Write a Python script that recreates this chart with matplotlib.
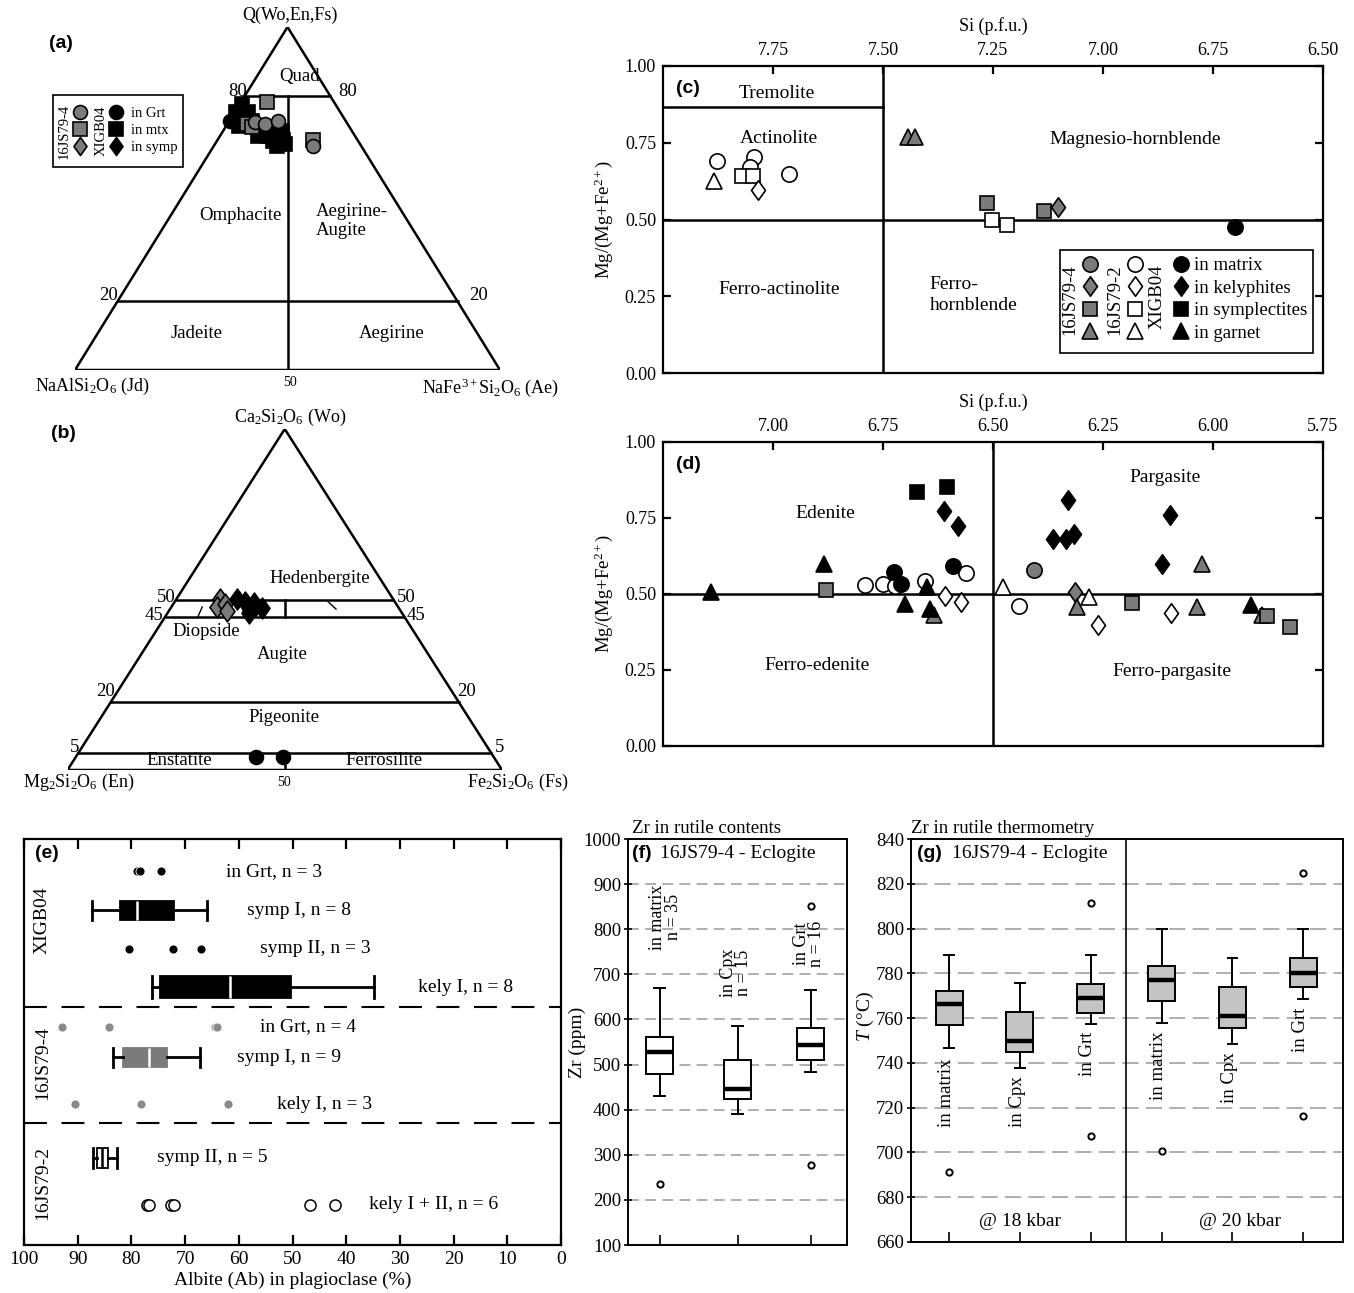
import numpy as np
import matplotlib
matplotlib.use('Agg')
import matplotlib.pyplot as plt
from matplotlib.lines import Line2D
from matplotlib.patches import Rectangle
from matplotlib.path import Path

plt.rcParams['font.family'] = ['Liberation Serif', 'DejaVu Serif']
plt.rcParams['mathtext.fontset'] = 'custom'
plt.rcParams['mathtext.rm'] = 'Liberation Serif'
plt.rcParams['mathtext.it'] = 'Liberation Serif:italic'
plt.rcParams['axes.linewidth'] = 1.6

W, H = 1354, 1293

# ---- (a) Q-Jd-Ae ternary (Q %, Ae %) ----
a_xigb_mtx_q = [77.5, 75.1, 74.0, 72.5, 71.0, 69.3, 68.1, 66.7, 65.2, 69.6, 67.2, 68.1, 75.1, 73.5, 70.0, 66.0, 71.0]
a_xigb_mtx_ae = [0.5, 0.3, 3.0, 5.4, 6.9, 9.3, 11.3, 13.3, 14.9, 13.9, 15.3, 9.0, 3.2, 1.5, 12.0, 16.5, 3.0]
a_xigb_grt_q = [72.5]
a_xigb_grt_ae = [0.2]
a_js4_grt_q = [72.2, 71.6, 72.5, 65.2]
a_js4_grt_ae = [6.3, 8.9, 11.5, 23.4]
a_js4_mtx_q = [71.6, 70.8, 78.1, 67.2]
a_js4_mtx_ae = [4.7, 6.2, 6.1, 22.4]

# ---- (b) Wo-En-Fs ternary (Wo %, Fs %) ----
b_js4_symp_wo = [50.1, 47.7, 48.7, 46.5]
b_js4_symp_fs = [10.0, 10.5, 12.0, 13.4]
b_xigb_symp_wo = [50.1, 49.4, 47.0, 48.1, 47.5, 46.0, 48.9]
b_xigb_symp_fs = [14.0, 16.1, 18.5, 19.0, 21.0, 18.7, 18.5]
b_xigb_grt_wo = [3.7, 3.7]
b_xigb_grt_fs = [41.5, 47.8]

# ---- (c) amphibole, Si vs Mg# ----
c_js2_mtx_si = [7.877, 7.793, 7.802, 7.714]
c_js2_mtx_mg = [0.692, 0.705, 0.672, 0.649]
c_js2_grt_si = [7.883]
c_js2_grt_mg = [0.624]
c_js2_symp_si = [7.82, 7.796, 7.253, 7.218]
c_js2_symp_mg = [0.643, 0.643, 0.499, 0.483]
c_js2_kely_si = [7.783]
c_js2_kely_mg = [0.597]
c_js4_grt_si = [7.444, 7.427]
c_js4_grt_mg = [0.768, 0.768]
c_js4_symp_si = [7.264, 7.135]
c_js4_symp_mg = [0.555, 0.529]
c_js4_kely_si = [7.102]
c_js4_kely_mg = [0.542]
c_xigb_mtx_si = [6.70]
c_xigb_mtx_mg = [0.474]

# ---- (d) amphibole, Si vs Mg# ----
d_xigb_grt_si = [7.142, 6.885, 6.700, 6.651, 6.644, 5.913]
d_xigb_grt_mg = [0.507, 0.600, 0.467, 0.522, 0.450, 0.463]
d_xigb_symp_si = [6.672, 6.604]
d_xigb_symp_mg = [0.836, 0.852]
d_xigb_kely_si = [6.611, 6.580, 6.330, 6.363, 6.335, 6.316, 6.098, 6.115]
d_xigb_kely_mg = [0.772, 0.723, 0.808, 0.682, 0.682, 0.699, 0.759, 0.600]
d_xigb_mtx_si = [6.724, 6.710, 6.592]
d_xigb_mtx_mg = [0.571, 0.532, 0.592]
d_js2_mtx_si = [6.790, 6.750, 6.723, 6.654, 6.561, 6.440]
d_js2_mtx_mg = [0.530, 0.532, 0.525, 0.544, 0.570, 0.460]
d_js2_kely_si = [6.610, 6.572, 6.261, 6.096]
d_js2_kely_mg = [0.492, 0.475, 0.398, 0.438]
d_js2_grt_si = [6.477, 6.282]
d_js2_grt_mg = [0.524, 0.491]
d_js4_mtx_si = [6.407]
d_js4_mtx_mg = [0.580]
d_js4_kely_si = [6.313]
d_js4_kely_mg = [0.507]
d_js4_grt_si = [6.633, 6.308, 6.026, 6.037, 5.888]
d_js4_grt_mg = [0.432, 0.458, 0.600, 0.458, 0.430]
d_js4_symp_si = [6.880, 6.184, 5.877, 5.825]
d_js4_symp_mg = [0.513, 0.469, 0.427, 0.390]

# ---- (e) albite content in plagioclase ----
e_rows = [8.0, 17.5, 27.0, 36.5, 46.2, 53.8, 65.3, 78.5, 90.1]
e_row_labels = ['in Grt, n = 3', 'symp I, n = 8', 'symp II, n = 3', 'kely I, n = 8',
                'in Grt, n = 4', 'symp I, n = 9', 'kely I, n = 3', 'symp II, n = 5',
                'kely I + II, n = 6']
e_label_x = [62.3, 58.5, 56.1, 26.7, 56.1, 60.4, 52.8, 75.2, 35.7]
e_xigb_grt = [79.0, 78.4, 74.4]
e_xigb_symp2 = [80.5, 72.3, 67.1]
e_js4_grt = [93.0, 84.1, 64.4, 64.1]
e_js4_kely = [90.5, 78.2, 62.0]
e_js2_kely = [77.1, 76.7, 72.6, 72.1, 46.8, 42.1]
# whislo, q1, med, q3, whishi
e_xigb_symp1_box = [66.0, 72.0, 79.0, 82.1, 87.3]
e_xigb_kely1_box = [34.8, 50.3, 61.6, 74.7, 76.2]
e_js4_symp1_box = [67.3, 73.3, 76.7, 81.5, 83.5]
e_js2_symp2_box = [82.6, 84.4, 85.4, 86.4, 87.2]
e_samples = ['XIGB04', '16JS79-4', '16JS79-2']
e_sample_y = [20.0, 55.2, 84.7]

# ---- (f) Zr in rutile (ppm) ----
f_labels = ['in matrix\nn = 35', 'in Cpx\nn = 15', 'in Grt\nn = 16']
f_box = [[430, 479, 528, 560, 669], [390, 423, 446, 511, 586], [483, 511, 543, 580, 665]]
f_fliers = [[235], [], [852, 277]]

# ---- (g) Zr-in-rutile temperatures ----
g_labels = ['in matrix', 'in Cpx', 'in Grt', 'in matrix', 'in Cpx', 'in Grt']
g_box = [[746.6, 756.7, 766.4, 772.3, 788.2], [737.6, 744.8, 749.8, 762.9, 775.9],
         [757.4, 762.5, 769.2, 775.1, 788.2], [757.7, 767.8, 777.1, 783.3, 800.0],
         [748.4, 755.5, 761.0, 774.1, 787.0], [768.6, 773.8, 780.0, 787.0, 800.0]]
g_fliers = [[691.1], [], [811.3, 707.5], [700.5], [], [825.0, 716.1]]
g_label_y = [726.5, 722.8, 743.9, 738.8, 733.2, 754.8]
g_pressures = ['@ 18 kbar', '@ 20 kbar']

GRAY = '#7b7b7b'
DIAM = Path([(0, 1), (0.72, 0), (0, -1), (-0.72, 0), (0, 1)],
            [Path.MOVETO, Path.LINETO, Path.LINETO, Path.LINETO, Path.CLOSEPOLY])
MS = {'o': 11, 's': 10, '^': 12, DIAM: 14}

fig = plt.figure(figsize=(W / 100, H / 100), dpi=100)


def px_axes(x0, y0, x1, y1):
    return fig.add_axes([x0 / W, 1 - y1 / H, (x1 - x0) / W, (y1 - y0) / H])


def ftext(px, py, s, size=13.5, **kw):
    kw.setdefault('ha', 'center')
    kw.setdefault('va', 'center')
    fig.text(px / W, 1 - py / H, s, size=size, **kw)


def letter(px, py, s):
    ftext(px, py, s, size=14, family='Liberation Sans', weight='bold')


def pts(ax, x, y, marker, face, ms=None):
    ax.plot(x, y, ls='none', marker=marker, mfc=face, mec='black',
            ms=ms or MS[marker], mew=1.2, zorder=3, clip_on=False)


def handle(marker, face, ms=None):
    return Line2D([], [], ls='none', marker=marker, mfc=face, mec='black',
                  ms=ms or MS[marker], mew=1.2)


def frame(x0, y0, x1, y1):
    fig.add_artist(Rectangle((x0 / W, 1 - y1 / H), (x1 - x0) / W, (y1 - y0) / H,
                             transform=fig.transFigure, fill=False, lw=1.2, ec='black'))


def bxp(ax, stats, **kw):
    o = kw.pop('orient')
    try:
        return ax.bxp(stats, orientation=o, **kw)
    except TypeError:
        return ax.bxp(stats, vert=(o == 'vertical'), **kw)


def stats_of(vals, fl=()):
    return dict(whislo=vals[0], q1=vals[1], med=vals[2], q3=vals[3], whishi=vals[4], fliers=list(fl))


# ================= (a) =================
axa = px_axes(75, 27, 500, 370)
axa.set_xlim(0, 1)
axa.set_ylim(0, 1)
axa.axis('off')


def tern_a(q, ae):
    q = np.asarray(q, float) / 100
    ae = np.asarray(ae, float) / 100
    return ae + q / 2, q


lw_t = 1.8
axa.plot([0, 1, 0.5, 0], [0, 0, 1, 0], color='black', lw=lw_t, zorder=1)
for q in (80, 20):
    x, y = tern_a([q, q], [0, 100 - q])
    axa.plot(x, y, color='black', lw=lw_t)
x, y = tern_a([0, 80], [50, 10])
axa.plot(x, y, color='black', lw=lw_t)

x, y = tern_a(a_xigb_mtx_q, a_xigb_mtx_ae)
pts(axa, x, y, 's', 'black', 9.5)
x, y = tern_a(a_xigb_grt_q, a_xigb_grt_ae)
pts(axa, x, y, 'o', 'black', 10)
x, y = tern_a(a_js4_mtx_q, a_js4_mtx_ae)
pts(axa, x, y, 's', GRAY, 9.5)
x, y = tern_a(a_js4_grt_q, a_js4_grt_ae)
pts(axa, x, y, 'o', GRAY, 10)

ftext(290, 15, 'Q(Wo,En,Fs)', size=13)
letter(61, 44, '(a)')
ftext(300, 76, 'Quad')
ftext(238, 91, '80')
ftext(348, 91, '80')
ftext(240, 215, 'Omphacite')
ftext(316, 221, 'Aegirine-\nAugite', ha='left', linespacing=1.1)
ftext(109, 295, '20')
ftext(479, 295, '20')
ftext(197, 333, 'Jadeite')
ftext(392, 333, 'Aegirine')
ftext(92, 386, 'NaAlSi$_2$O$_6$ (Jd)', size=13)
ftext(290, 382, '50', size=10)
ftext(491, 388, 'NaFe$^{3+}$Si$_2$O$_6$ (Ae)', size=13)

frame(53, 95, 183, 167)
ha_ = [handle('o', GRAY, 10), handle('s', GRAY, 9.5), handle(DIAM, GRAY, 13),
       handle('o', 'black', 10), handle('s', 'black', 9.5), handle(DIAM, 'black', 13)]
fig.legend(ha_, ['', '', '', 'in Grt', 'in mtx', 'in symp'], ncol=2, frameon=False,
           loc='upper left', bbox_to_anchor=(73 / W, 1 - 107 / H), bbox_transform=fig.transFigure,
           borderpad=0, borderaxespad=0, handlelength=0.9, handletextpad=0.6,
           columnspacing=1.0, labelspacing=0.26, fontsize=10.5)
ftext(64, 131, '16JS79-4', size=10.5, rotation=90)
ftext(101, 131, 'XIGB04', size=10.5, rotation=90)

# ================= (b) =================
axb = px_axes(67.5, 429, 502, 770)
axb.set_xlim(0, 1)
axb.set_ylim(0, 1)
axb.axis('off')


def tern_b(wo, fs):
    wo = np.asarray(wo, float) / 100
    fs = np.asarray(fs, float) / 100
    return fs + wo / 2, wo


axb.plot([0, 1, 0.5, 0], [0, 0, 1, 0], color='black', lw=lw_t, zorder=1)
for wo in (50, 45, 20, 5):
    x, y = tern_b([wo, wo], [0, 100 - wo])
    axb.plot(x, y, color='black', lw=lw_t)
for lo, hi in ((45, 50), (0, 5)):
    x, y = tern_b([lo, hi], [50 - lo / 2, 50 - hi / 2])
    axb.plot(x, y, color='black', lw=lw_t)
axb.plot([0.31, 0.299], [0.478, 0.446], color='black', lw=1)
axb.plot([0.60, 0.618], [0.493, 0.472], color='black', lw=1)

x, y = tern_b(b_js4_symp_wo, b_js4_symp_fs)
pts(axb, x, y, DIAM, GRAY, 15)
x, y = tern_b(b_xigb_symp_wo, b_xigb_symp_fs)
pts(axb, x, y, DIAM, 'black', 15)
x, y = tern_b(b_xigb_grt_wo, b_xigb_grt_fs)
pts(axb, x, y, 'o', 'black', 10)

ftext(290, 417, 'Ca$_2$Si$_2$O$_6$ (Wo)', size=13)
letter(63, 434, '(b)')
ftext(320, 579, 'Hedenbergite')
ftext(166, 597, '50')
ftext(406, 597, '50')
ftext(154, 615, '45')
ftext(416, 615, '45')
ftext(206, 631, 'Diopside')
ftext(282, 655, 'Augite')
ftext(106, 691, '20')
ftext(466, 691, '20')
ftext(284, 718, 'Pigeonite')
ftext(75, 747, '5')
ftext(500, 747, '5')
ftext(179, 760, 'Enstatite')
ftext(384, 760, 'Ferrosilite')
ftext(79, 782, 'Mg$_2$Si$_2$O$_6$ (En)', size=13)
ftext(284, 783, '50', size=10)
ftext(518, 782, 'Fe$_2$Si$_2$O$_6$ (Fs)', size=13)


# ================= (c), (d) =================
def amph_axes(ax, xlim, xticks):
    ax.set_xlim(*xlim)
    ax.set_ylim(0, 1)
    ax.xaxis.tick_top()
    ax.xaxis.set_label_position('top')
    ax.set_xticks(xticks)
    ax.set_xticklabels([f'{t:.2f}' for t in xticks])
    ax.set_yticks([0, 0.25, 0.5, 0.75, 1.0])
    ax.set_yticklabels(['0.00', '0.25', '0.50', '0.75', '1.00'])
    ax.tick_params(direction='in', length=6, width=1.6, labelsize=13, top=True,
                   bottom=False, left=True, right=True, pad=5)
    ax.set_xlabel('Si (p.f.u.)', fontsize=13, labelpad=8)
    ax.set_ylabel('Mg/(Mg+Fe$^{2+}$)', fontsize=13.5)
    ax.yaxis.set_label_coords(-0.072, 0.5)
    ax.axhline(0.5, color='black', lw=1.8)


axc = px_axes(663, 66, 1323, 373)
amph_axes(axc, (8.0, 6.5), [7.75, 7.5, 7.25, 7.0, 6.75, 6.5])
axc.axvline(7.5, color='black', lw=1.8)
axc.plot([8.0, 7.5], [0.865, 0.865], color='black', lw=1.8)
pts(axc, c_js2_mtx_si, c_js2_mtx_mg, 'o', 'white')
pts(axc, c_js2_grt_si, c_js2_grt_mg, '^', 'white')
pts(axc, c_js2_symp_si, c_js2_symp_mg, 's', 'white')
pts(axc, c_js2_kely_si, c_js2_kely_mg, DIAM, 'white')
pts(axc, c_js4_grt_si, c_js4_grt_mg, '^', GRAY)
pts(axc, c_js4_symp_si, c_js4_symp_mg, 's', GRAY)
pts(axc, c_js4_kely_si, c_js4_kely_mg, DIAM, GRAY)
pts(axc, c_xigb_mtx_si, c_xigb_mtx_mg, 'o', 'black')
axc.text(0.02, 0.955, '(c)', transform=axc.transAxes, family='Liberation Sans',
         weight='bold', size=14, va='top')
axc.text(7.741, 0.909, 'Tremolite', ha='center', va='center', size=14)
axc.text(7.736, 0.765, 'Actinolite', ha='center', va='center', size=14)
axc.text(6.926, 0.761, 'Magnesio-hornblende', ha='center', va='center', size=14)
axc.text(7.736, 0.271, 'Ferro-actinolite', ha='center', va='center', size=14)
axc.text(7.394, 0.255, 'Ferro-\nhornblende', ha='left', va='center', size=14, linespacing=1.3)

frame(1060, 250, 1313, 353)
hc = []
for face in (GRAY, 'white', 'black'):
    hc += [handle('o', face), handle(DIAM, face), handle('s', face), handle('^', face)]
fig.legend(hc, [''] * 8 + ['in matrix', 'in kelyphites', 'in symplectites', 'in garnet'],
           ncol=3, frameon=False, loc='upper left',
           bbox_to_anchor=(1082 / W, 1 - 257 / H), bbox_transform=fig.transFigure,
           borderpad=0, borderaxespad=0, handlelength=0.8, handletextpad=0.25,
           columnspacing=1.4, labelspacing=0.29, fontsize=13.5)
ftext(1070, 300, '16JS79-4', size=13.5, rotation=90)
ftext(1115, 300, '16JS79-2', size=13.5, rotation=90)
ftext(1157, 297, 'XIGB04', size=13.5, rotation=90)

axd = px_axes(663, 442, 1323, 746)
amph_axes(axd, (7.25, 5.75), [7.0, 6.75, 6.5, 6.25, 6.0, 5.75])
axd.axvline(6.5, color='black', lw=1.8)
pts(axd, d_js2_mtx_si, d_js2_mtx_mg, 'o', 'white')
pts(axd, d_js2_kely_si, d_js2_kely_mg, DIAM, 'white')
pts(axd, d_js2_grt_si, d_js2_grt_mg, '^', 'white')
pts(axd, d_js4_mtx_si, d_js4_mtx_mg, 'o', GRAY)
pts(axd, d_js4_kely_si, d_js4_kely_mg, DIAM, GRAY)
pts(axd, d_js4_grt_si, d_js4_grt_mg, '^', GRAY)
pts(axd, d_js4_symp_si, d_js4_symp_mg, 's', GRAY)
pts(axd, d_xigb_grt_si, d_xigb_grt_mg, '^', 'black')
pts(axd, d_xigb_symp_si, d_xigb_symp_mg, 's', 'black')
pts(axd, d_xigb_kely_si, d_xigb_kely_mg, DIAM, 'black')
pts(axd, d_xigb_mtx_si, d_xigb_mtx_mg, 'o', 'black')
axd.text(0.02, 0.955, '(d)', transform=axd.transAxes, family='Liberation Sans',
         weight='bold', size=14, va='top')
axd.text(6.882, 0.765, 'Edenite', ha='center', va='center', size=14)
axd.text(6.109, 0.883, 'Pargasite', ha='center', va='center', size=14)
axd.text(6.899, 0.266, 'Ferro-edenite', ha='center', va='center', size=14)
axd.text(6.093, 0.244, 'Ferro-pargasite', ha='center', va='center', size=14)

# ================= (e) =================
axe = px_axes(24, 839, 561, 1245)
axe.set_xlim(100, 0)
axe.set_ylim(100, 0)
axe.set_xticks(np.arange(100, -1, -10))
axe.set_yticks([])
axe.tick_params(axis='x', direction='in', length=7, width=1.6, labelsize=14, top=True, pad=4)
axe.set_xlabel('Albite (Ab) in plagioclase (%)', fontsize=14, labelpad=3)
for yd in (41.4, 69.9):
    axe.axhline(yd, color='black', lw=1.5, dashes=(11, 7))

box_w = [4.7, 5.4, 4.6, 5.0]
box_face = ['black', 'black', GRAY, 'white']
box_edge = ['black', 'black', GRAY, 'black']
box_med = ['white', 'white', 'white', 'black']
box_rows = [e_rows[1], e_rows[3], e_rows[5], e_rows[7]]
for vals, yy, wd, fc, ec, mc in zip(
        [e_xigb_symp1_box, e_xigb_kely1_box, e_js4_symp1_box, e_js2_symp2_box],
        box_rows, box_w, box_face, box_edge, box_med):
    bxp(axe, [stats_of(vals)], positions=[yy], widths=wd, orient='horizontal',
        patch_artist=True, showfliers=False, manage_ticks=False, capwidths=wd,
        boxprops=dict(facecolor=fc, edgecolor=ec, lw=1.3),
        medianprops=dict(color=mc, lw=1.8),
        whiskerprops=dict(color='black', lw=2), capprops=dict(color='black', lw=2))

for vals, yy, fc in ((e_xigb_grt, e_rows[0], 'black'), (e_xigb_symp2, e_rows[2], 'black'),
                     (e_js4_grt, e_rows[4], '#8a8a8a'), (e_js4_kely, e_rows[6], '#8a8a8a')):
    axe.plot(vals, [yy] * len(vals), ls='none', marker='o', ms=6.5, mfc=fc, mec='white', mew=0.6)
axe.plot(e_js2_kely, [e_rows[8]] * len(e_js2_kely), ls='none', marker='o', ms=8,
         mfc='white', mec='black', mew=1.1)

for lx, yy, s in zip(e_label_x, e_rows, e_row_labels):
    axe.text(lx, yy, s, ha='left', va='center', size=14)
for s, yy in zip(e_samples, e_sample_y):
    axe.text(96.6, yy, s, rotation=90, ha='center', va='center', size=14)
axe.text(0.02, 0.985, '(e)', transform=axe.transAxes, family='Liberation Sans',
         weight='bold', size=14, va='top')


# ================= (f) =================
def box_panel(ax, ylim, yticks, grid):
    ax.set_ylim(*ylim)
    ax.set_yticks(yticks)
    ax.tick_params(axis='y', direction='inout', length=6, width=1.2, labelsize=13.5, pad=2)
    ax.tick_params(axis='x', direction='in', length=7, width=1.2, labelbottom=False)
    for g in grid:
        ax.axhline(g, color='#a8a8a8', lw=1.3, dashes=(6, 3.5), zorder=0)
    for sp in ax.spines.values():
        sp.set_linewidth(1.4)


axf = px_axes(628, 839, 847, 1245)
axf.set_xlim(0.59, 3.41)
f_pos = [1, 2, 2.94]
box_panel(axf, (100, 1000), np.arange(100, 1001, 100), np.arange(200, 901, 100))
bxp(axf, [stats_of(v, fl) for v, fl in zip(f_box, f_fliers)], positions=f_pos, widths=0.35,
    orient='vertical', patch_artist=True, manage_ticks=False, capwidths=0.14,
    boxprops=dict(facecolor='white', edgecolor='black', lw=1.4),
    medianprops=dict(color='black', lw=3.2), whiskerprops=dict(color='black', lw=1.4),
    capprops=dict(color='black', lw=1.4),
    flierprops=dict(marker='o', mfc='white', mec='black', ms=4.5, mew=1.4))
axf.set_xticks(f_pos)
axf.set_ylabel('Zr (ppm)', fontsize=14)
axf.yaxis.set_label_coords(-0.19, 0.5)
for xp, yv, s in zip([1.07, 1.98, 2.92], [827, 703, 767], f_labels):
    axf.text(xp, yv, s, rotation=90, ha='center', va='center', size=13, linespacing=0.9,
             multialignment='center')
axf.text(0.02, 0.985, '(f)', transform=axf.transAxes, family='Liberation Sans',
         weight='bold', size=14, va='top')
axf.text(0.146, 0.985, '16JS79-4 - Eclogite', transform=axf.transAxes, size=14, va='top')
axf.text(0.02, 1.005, 'Zr in rutile contents', transform=axf.transAxes, size=13.5, va='bottom')

# ================= (g) =================
axg = px_axes(911, 839, 1343, 1242)
axg.set_xlim(0.463, 6.56)
g_pos = [1, 2, 3, 4, 5, 6]
box_panel(axg, (660, 840), np.arange(660, 841, 20), np.arange(680, 821, 20))
for ln in axg.lines:
    ln.set_dashes((9, 4))
axg.axvline(3.5, color='black', lw=1.2)
bxp(axg, [stats_of(v, fl) for v, fl in zip(g_box, g_fliers)], positions=g_pos, widths=0.38,
    orient='vertical', patch_artist=True, manage_ticks=False, capwidths=0.14,
    boxprops=dict(facecolor='#c4c4c4', edgecolor='black', lw=1.4),
    medianprops=dict(color='black', lw=3.2), whiskerprops=dict(color='black', lw=1.4),
    capprops=dict(color='black', lw=1.4),
    flierprops=dict(marker='o', mfc='white', mec='black', ms=4.5, mew=1.4))
axg.set_xticks(g_pos)
axg.set_ylabel('$T$ (°C)', fontsize=14)
axg.yaxis.set_label_coords(-0.082, 0.56)
for xp, yv, s in zip(g_pos, g_label_y, g_labels):
    axg.text(xp - 0.04, yv, s, rotation=90, ha='center', va='center', size=13.5)
for xp, s in zip([2.0, 5.1], g_pressures):
    axg.text(xp, 669.2, s, ha='center', va='center', size=14)
axg.text(0.014, 0.985, '(g)', transform=axg.transAxes, family='Liberation Sans',
         weight='bold', size=14, va='top')
axg.text(0.095, 0.985, '16JS79-4 - Eclogite', transform=axg.transAxes, size=14, va='top')
axg.text(0.0, 1.005, 'Zr in rutile thermometry', transform=axg.transAxes, size=13.5, va='bottom')

fig.savefig('out.png', dpi=100)
